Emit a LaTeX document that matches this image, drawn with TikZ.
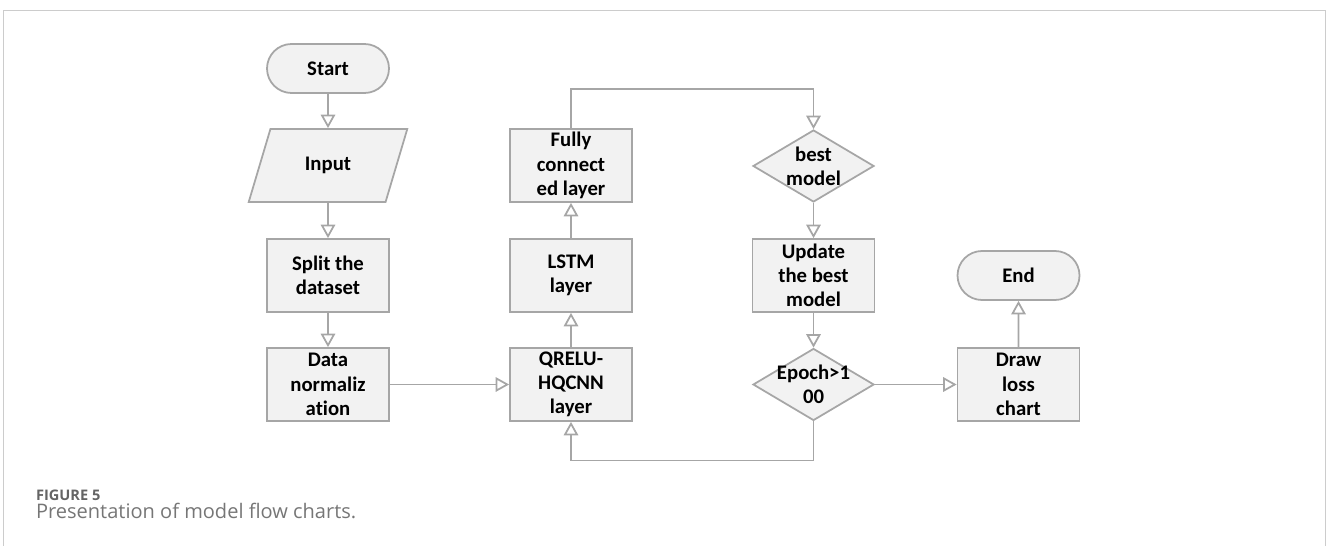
\documentclass[tikz,border=0pt]{standalone}
\usepackage{fontspec}
\setmainfont{Carlito}[Ligatures=NoCommon]
\newfontfamily\capfont{Open Sans}
\usepackage{tikz}
\usetikzlibrary{arrows.meta,shapes.geometric,shapes.misc}

\definecolor{lineg}{HTML}{A6A6A6}
\definecolor{boxfill}{HTML}{F2F2F2}
\definecolor{capg}{HTML}{767676}

\tikzset{
  blk/.style={draw=lineg, line width=1pt, fill=boxfill, align=center,
    font=\fontsize{11.8}{13.8}\selectfont\bfseries},
  procbox/.style={blk, rectangle, minimum width=2.44cm, minimum height=1.46cm, inner sep=0pt},
  termbox/.style={blk, rounded rectangle, minimum width=2.44cm, minimum height=0.98cm, inner sep=0pt},
  iobox/.style={blk, trapezium, trapezium left angle=62.5, trapezium right angle=117.5,
    trapezium stretches=true, minimum width=3.18cm, minimum height=1.46cm, inner sep=0pt},
  decbox/.style={blk, diamond, minimum width=2.42cm, minimum height=1.44cm, inner sep=0pt},
  dectext/.style={align=center, font=\fontsize{11.8}{13.8}\selectfont\bfseries},
  flow/.style={draw=lineg, line width=1pt, -{Triangle[open, length=0.27cm, width=0.29cm]}}
}

\begin{document}
\begin{tikzpicture}
  \useasboundingbox (0,0) rectangle (26.54,-10.92);
  \draw[draw=black!20, line width=0.5pt] (0.06,-10.92) -- (0.06,-0.2) -- (26.5,-0.2) -- (26.5,-10.92);

% first column
\node[termbox] (start) at (6.56,-1.37) {Start};
\node[iobox] (inp) at (6.56,-3.31) {Input};
\node[procbox] (split) at (6.56,-5.51) {Split the\\dataset};
\node[procbox] (norm) at (6.56,-7.69) {Data\\normaliz\\ation};

% second column
\node[procbox] (fc) at (11.42,-3.31) {Fully\\connect\\ed layer};
\node[procbox] (lstm) at (11.42,-5.51) {LSTM\\layer};
\node[procbox] (qrelu) at (11.42,-7.69) {QRELU-\\HQCNN\\layer};

% third column
\node[decbox] (best) at (16.27,-3.32) {};
\node[dectext] (bestt) at (best.center) {best\\model};
\node[procbox] (upd) at (16.27,-5.51) {Update\\the best\\model};
\node[decbox] (epoch) at (16.27,-7.69) {};
\node[dectext] (epocht) at (epoch.center) {Epoch>1\\00};

% last column
\node[procbox] (drawc) at (20.37,-7.69) {Draw\\loss\\chart};
\node[termbox] (end) at (20.37,-5.51) {End};

\draw[flow] (start) -- (inp);
\draw[flow] (inp) -- (split);
\draw[flow] (split) -- (norm);
\draw[flow] (norm) -- (qrelu);
\draw[flow] (qrelu) -- (lstm);
\draw[flow] (lstm) -- (fc);
\draw[flow] (fc.north) -- ++(0,0.78) -| (best.north);
\draw[flow] (best) -- (upd);
\draw[flow] (upd) -- (epoch);
\draw[flow] (epoch) -- (drawc);
\draw[flow] (drawc) -- (end);
\draw[flow] (epoch.south) -- ++(0,-0.78) -| (qrelu.south);

\node[anchor=base west, text=capg!85!black, font=\capfont\bfseries\fontsize{8.3}{9}\selectfont, inner sep=0pt]
  (fig) at (0.714,-10.01) {FIGURE 5};
\node[anchor=base west, text=capg, font=\capfont\fontsize{11.4}{12}\selectfont, inner sep=0pt]
  (cap) at (0.714,-10.36) {Presentation of model flow charts.};
\end{tikzpicture}
\end{document}
